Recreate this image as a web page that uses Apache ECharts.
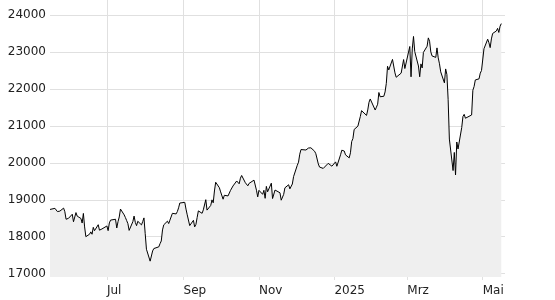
<!DOCTYPE html>
<html><head><meta charset="utf-8">
<script src="https://cdn.jsdelivr.net/npm/echarts@6/dist/echarts.min.js"></script>
<style>html,body{margin:0;padding:0;background:#fff}#c{width:555px;height:300px}</style>
</head><body><div id="c"></div>
<script>
const dates = [
'2024-05-16','2024-05-17','2024-05-20','2024-05-21','2024-05-22','2024-05-23','2024-05-24','2024-05-27','2024-05-28','2024-05-29','2024-05-30','2024-05-31',
'2024-06-03','2024-06-04','2024-06-05','2024-06-06','2024-06-07','2024-06-10','2024-06-11','2024-06-12','2024-06-13','2024-06-14','2024-06-17','2024-06-18','2024-06-19','2024-06-20','2024-06-21','2024-06-24','2024-06-25','2024-06-26','2024-06-27','2024-06-28',
'2024-07-01','2024-07-02','2024-07-03','2024-07-04','2024-07-05','2024-07-08','2024-07-09','2024-07-10','2024-07-11','2024-07-12','2024-07-15','2024-07-16','2024-07-17','2024-07-18','2024-07-19','2024-07-22','2024-07-23','2024-07-24','2024-07-25','2024-07-26','2024-07-29','2024-07-30','2024-07-31',
'2024-08-01','2024-08-02','2024-08-05','2024-08-06','2024-08-07','2024-08-08','2024-08-09','2024-08-12','2024-08-13','2024-08-14','2024-08-15','2024-08-16','2024-08-19','2024-08-20','2024-08-21','2024-08-22','2024-08-23','2024-08-26','2024-08-27','2024-08-28','2024-08-29','2024-08-30',
'2024-09-02','2024-09-03','2024-09-04','2024-09-05','2024-09-06','2024-09-09','2024-09-10','2024-09-11','2024-09-12','2024-09-13','2024-09-16','2024-09-17','2024-09-18','2024-09-19','2024-09-20','2024-09-23','2024-09-24','2024-09-25','2024-09-26','2024-09-27','2024-09-30',
'2024-10-01','2024-10-02','2024-10-03','2024-10-04','2024-10-07','2024-10-08','2024-10-09','2024-10-10','2024-10-11','2024-10-14','2024-10-15','2024-10-16','2024-10-17','2024-10-18','2024-10-21','2024-10-22','2024-10-23','2024-10-24','2024-10-25','2024-10-28','2024-10-29','2024-10-30','2024-10-31',
'2024-11-01','2024-11-04','2024-11-05','2024-11-06','2024-11-07','2024-11-08','2024-11-11','2024-11-12','2024-11-13','2024-11-14','2024-11-15','2024-11-18','2024-11-19','2024-11-20','2024-11-21','2024-11-22','2024-11-25','2024-11-26','2024-11-27','2024-11-28','2024-11-29',
'2024-12-02','2024-12-03','2024-12-04','2024-12-05','2024-12-06','2024-12-09','2024-12-10','2024-12-11','2024-12-12','2024-12-13','2024-12-16','2024-12-17','2024-12-18','2024-12-19','2024-12-20','2024-12-23','2024-12-27','2024-12-30',
'2025-01-02','2025-01-03','2025-01-06','2025-01-07','2025-01-08','2025-01-09','2025-01-10','2025-01-13','2025-01-14','2025-01-15','2025-01-16','2025-01-17','2025-01-20','2025-01-21','2025-01-22','2025-01-23','2025-01-24','2025-01-27','2025-01-28','2025-01-29','2025-01-30','2025-01-31',
'2025-02-03','2025-02-04','2025-02-05','2025-02-06','2025-02-07','2025-02-10','2025-02-11','2025-02-12','2025-02-13','2025-02-14','2025-02-17','2025-02-18','2025-02-19','2025-02-20','2025-02-21','2025-02-24','2025-02-25','2025-02-26','2025-02-27','2025-02-28',
'2025-03-03','2025-03-04','2025-03-05','2025-03-06','2025-03-07','2025-03-10','2025-03-11','2025-03-12','2025-03-13','2025-03-14','2025-03-17','2025-03-18','2025-03-19','2025-03-20','2025-03-21','2025-03-24','2025-03-25','2025-03-26','2025-03-27','2025-03-28','2025-03-31',
'2025-04-01','2025-04-02','2025-04-03','2025-04-04','2025-04-07','2025-04-08','2025-04-09','2025-04-10','2025-04-11','2025-04-14','2025-04-15','2025-04-16','2025-04-17','2025-04-22','2025-04-23','2025-04-24','2025-04-25','2025-04-28','2025-04-29','2025-04-30',
'2025-05-02','2025-05-05','2025-05-06','2025-05-07','2025-05-08','2025-05-09','2025-05-12','2025-05-13','2025-05-14','2025-05-15','2025-05-16'
];
const values = [
18738,18704,18768,18726,18680,18691,18693,18774,18677,18473,18496,18498,
18608,18405,18431,18653,18557,18494,18370,18630,18265,18002,18068,18131,18067,18254,18163,18325,18177,18155,18210,18235,
18290,18164,18374,18450,18475,18472,18236,18407,18534,18748,18591,18518,18437,18354,18171,18407,18558,18387,18299,18418,18320,18411,18509,
18083,17661,17339,17354,17615,17680,17722,17726,17812,17885,18184,18322,18421,18356,18449,18493,18633,18617,18681,18782,18912,18906,
18930,18747,18592,18576,18301,18443,18266,18330,18518,18699,18633,18727,18711,19002,18720,18846,18997,18918,19238,19474,19325,
19213,19164,19015,19121,19104,19066,19254,19210,19373,19508,19486,19432,19583,19657,19461,19421,19377,19443,19464,19531,19479,19257,19078,
19255,19147,19256,19039,19362,19215,19448,19033,19003,19263,19211,19189,18988,19004,19146,19323,19406,19295,19262,19426,19626,
19934,20017,20233,20359,20385,20346,20329,20399,20427,20406,20313,20246,20243,19970,19885,19848,19985,19909,
20025,19906,20217,20341,20330,20318,20215,20133,20271,20575,20655,20903,20990,21042,21254,21411,21395,21282,21430,21637,21727,21732,
21428,21505,21585,21902,21787,21800,21917,22148,22612,22513,22798,22845,22433,22315,22287,22426,22410,22794,22551,22551,
23147,22327,23081,23419,23009,22620,22328,22676,22567,22987,23154,23380,23288,22999,22892,22852,23109,22839,22679,22461,22163,
22540,22390,21717,20642,19790,20280,19670,20563,20374,20955,21254,21311,21206,21294,21962,22064,22242,22272,22426,22497,
23087,23344,23249,23116,23352,23499,23567,23638,23527,23695,23767
];
const xTickDates = ['2024-07-01','2024-09-01','2024-11-01','2025-01-01','2025-03-01','2025-05-01'];
const xTickLabels = ['Jul','Sep','Nov','2025','Mrz','Mai'];
const yTicks = [17000,18000,19000,20000,21000,22000,23000,24000];
const xRange = ['2024-05-16','2025-05-19'];
const yRange = [16910,24405];

const pd = s => echarts.number.parseDate(s).getTime();
const xTickTs = xTickDates.map(pd);
const chart = echarts.init(document.getElementById('c'), null, {renderer:'canvas'});
chart.setOption({
  animation:false,
  backgroundColor:'#fff',
  grid:{left:50,right:50,top:0,bottom:23,containLabel:false},
  xAxis:{
    type:'value', min:pd(xRange[0]), max:pd(xRange[1]),
    axisLine:{show:false},
    axisTick:{show:true,length:3,lineStyle:{color:'#e0e0e0'},customValues:xTickTs},
    axisLabel:{customValues:xTickTs,align:'left',margin:8,color:'#222',fontFamily:'DejaVu Sans',fontSize:12,
      formatter:v=>{const i=xTickTs.indexOf(v);return i>=0?xTickLabels[i]:'';}},
    splitLine:{show:true,lineStyle:{color:'#e0e0e0',width:1}}
  },
  yAxis:{
    type:'value', min:yRange[0], max:yRange[1],
    axisLine:{show:false}, axisTick:{show:false,customValues:yTicks},
    axisLabel:{customValues:yTicks,margin:4,color:'#222',fontFamily:'DejaVu Sans',fontSize:12,
      formatter:v=>String(v)},
    splitLine:{show:true,lineStyle:{color:'#e0e0e0',width:1}}
  },
  series:[{
    type:'line', data:dates.map((d,i)=>[pd(d),values[i]]), showSymbol:false, symbol:'none',
    lineStyle:{color:'#000',width:1}, areaStyle:{color:'#efefef',opacity:1,origin:'start'}
  }]
});
</script></body></html>
